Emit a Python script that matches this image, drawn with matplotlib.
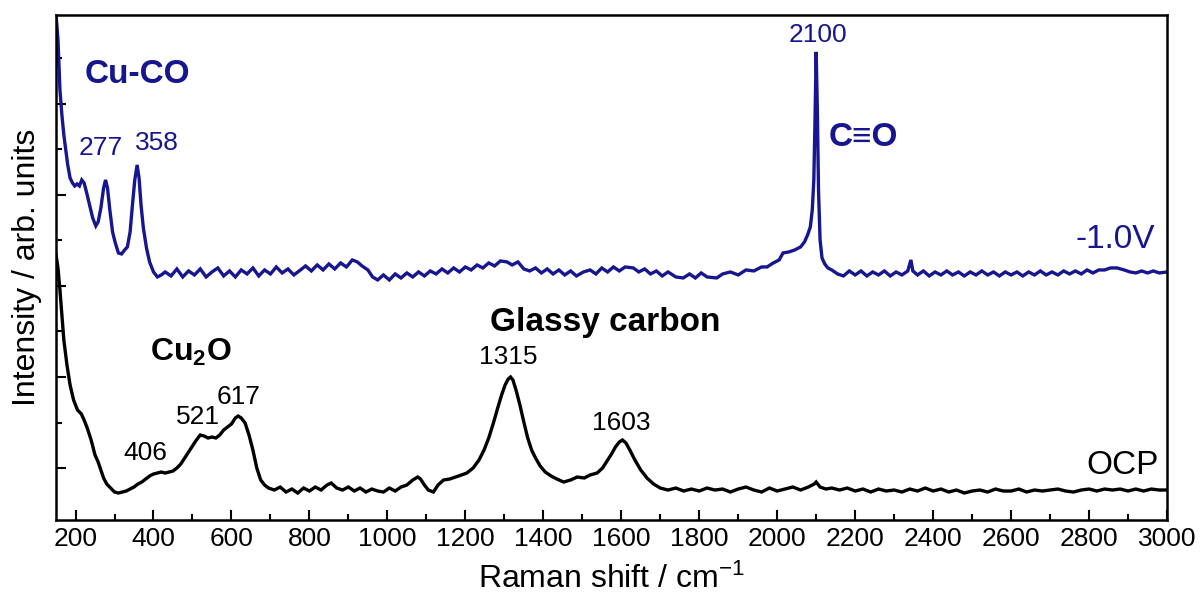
import numpy as np
import matplotlib
matplotlib.use("Agg")
import matplotlib.pyplot as plt
from matplotlib.ticker import MultipleLocator

plt.rcParams['font.family'] = ['Liberation Sans', 'DejaVu Sans']
plt.rcParams['mathtext.fontset'] = 'custom'
plt.rcParams['mathtext.rm'] = 'Liberation Sans'
plt.rcParams['mathtext.bf'] = 'Liberation Sans:bold'
plt.rcParams['mathtext.default'] = 'regular'

BLUE = '#16168f'

# OCP spectrum (Raman shift in cm-1, intensity in arb. units)
ocp_shift = [150, 155, 160, 165, 170, 178, 186, 195, 205, 215, 222, 230, 240, 250, 258, 265, 272, 280, 290, 300,
             310, 320, 330, 340, 350, 360, 370, 380, 390, 400, 410, 420, 430, 440, 450, 460, 470, 480, 490, 500,
             510, 520, 530, 540, 550, 560, 570, 580, 590, 600, 610, 617, 625, 635, 645, 655, 665, 675, 685, 695,
             710, 725, 740, 755, 770, 785, 800, 815, 830, 845, 856, 870, 885, 900, 915, 930, 945, 960, 975, 990,
             1005, 1020, 1035, 1050, 1065, 1078, 1085, 1095, 1105, 1118, 1130, 1144, 1160, 1175, 1190, 1204, 1220,
             1235, 1248, 1260, 1272, 1283, 1293, 1302, 1310, 1316, 1322, 1330, 1340, 1350, 1360, 1370, 1380, 1392,
             1405, 1420, 1435, 1452, 1470, 1487, 1505, 1520, 1538, 1552, 1565, 1575, 1585, 1595, 1603, 1612, 1622,
             1635, 1650, 1666, 1683, 1700, 1720, 1740, 1760, 1780, 1800, 1820, 1840, 1860, 1880, 1900, 1920, 1940,
             1960, 1980, 2000, 2020, 2040, 2060, 2080, 2095, 2100, 2110, 2125, 2140, 2160, 2180, 2200, 2220, 2240,
             2260, 2280, 2300, 2320, 2340, 2360, 2380, 2400, 2420, 2440, 2460, 2480, 2500, 2520, 2540, 2560, 2580,
             2600, 2620, 2640, 2660, 2680, 2700, 2720, 2740, 2760, 2780, 2800, 2820, 2840, 2860, 2880, 2900, 2920,
             2940, 2960, 2980, 3000]
ocp_int = [265, 252, 230, 205, 180, 155, 135, 120, 110, 106, 100, 92, 80, 65, 58, 50, 42, 36, 32, 28,
           27, 28, 29, 31, 33, 36, 38, 41, 44, 46, 47, 48, 47, 48, 49, 52, 56, 62, 68, 74,
           80, 85, 84, 82, 83, 82, 85, 90, 93, 96, 102, 104, 102, 97, 85, 70, 52, 40, 35, 32,
           30, 33, 28, 31, 27, 32, 29, 33, 30, 35, 37, 32, 30, 33, 29, 32, 28, 31, 29, 28,
           32, 29, 33, 35, 40, 43, 41, 35, 30, 28, 35, 40, 41, 43, 45, 47, 52,
           60, 70, 82, 97, 112, 125, 135, 141, 143, 140, 130, 115, 98, 82, 70, 62, 54,
           48, 44, 41, 38, 40, 43, 42, 45, 47, 52, 60, 66, 73, 78, 80, 77, 70,
           60, 50, 42, 36, 32, 30, 32, 29, 31, 29, 32, 30, 31, 28, 31, 33, 30,
           28, 32, 29, 31, 33, 30, 33, 36, 38, 33, 31, 32, 30, 32, 29, 31, 28,
           31, 29, 30, 28, 31, 29, 32, 29, 31, 28, 30, 27, 29, 30, 28, 31, 29,
           29, 31, 28, 30, 29, 30, 31, 29, 28, 30, 31, 29, 31, 30, 31, 29, 31,
           29, 31, 30, 30]

# -1.0 V spectrum
neg_shift = [150, 155, 160, 165, 170, 175, 180, 186, 192, 198, 204, 210, 216, 222, 228, 236, 244, 252, 258, 265,
             272, 277, 282, 288, 295, 302, 310, 318, 326, 333, 340, 346, 352, 358, 363, 368, 374, 382, 390, 400,
             410, 420, 430, 445, 460, 475, 490, 505, 520, 535, 550, 565, 580, 595, 610, 625, 640, 655, 670, 685,
             700, 715, 730, 745, 760, 777, 790, 805, 820, 835, 850, 865, 880, 895, 910, 923, 935, 950, 962, 975,
             990, 1005, 1020, 1035, 1050, 1065, 1080, 1095, 1110, 1125, 1140, 1155, 1170, 1185, 1200, 1215, 1230,
             1245, 1260, 1275, 1290, 1307, 1320, 1335, 1350, 1365, 1380, 1395, 1410, 1425, 1440, 1455, 1470, 1485,
             1503, 1520, 1535, 1550, 1565, 1580, 1595, 1610, 1631, 1645, 1660, 1675, 1690, 1705, 1720, 1740, 1759,
             1775, 1790, 1805, 1820, 1845, 1860, 1880, 1900, 1920, 1940, 1960, 1974, 1990, 2005, 2015, 2030, 2045,
             2060, 2070, 2078, 2085, 2090, 2094, 2097, 2100, 2103, 2106, 2110, 2115, 2122, 2130, 2140, 2155, 2170,
             2185, 2200, 2215, 2230, 2245, 2260, 2275, 2290, 2305, 2320, 2335, 2343, 2348, 2360, 2375, 2390, 2405,
             2420, 2435, 2450, 2465, 2480, 2495, 2510, 2525, 2540, 2555, 2570, 2585, 2600, 2615, 2630, 2645, 2660,
             2675, 2690, 2705, 2720, 2735, 2750, 2765, 2780, 2795, 2810, 2825, 2840, 2855, 2872, 2890, 2905, 2920,
             2935, 2950, 2965, 2980, 3000]
neg_int = [505, 480, 430, 405, 385, 370, 355, 342, 337, 334, 336, 334, 340, 337, 328, 315, 302, 294, 298, 312,
           332, 340, 332, 310, 288, 277, 267, 266, 270, 273, 288, 315, 340, 355, 342, 315, 292, 272, 258, 248,
           243, 245, 248, 244, 251, 243, 249, 245, 251, 243, 248, 252, 244, 249, 243, 250, 246, 252, 244, 250,
           246, 253, 247, 251, 245, 250, 254, 249, 255, 250, 256, 251, 257, 253, 260, 258, 254, 250, 243, 240,
           245, 240, 246, 242, 247, 243, 248, 244, 249, 246, 251, 247, 252, 248, 253, 250, 255,
           252, 257, 254, 259, 258, 255, 258, 251, 249, 252, 247, 251, 246, 250, 245, 249, 244,
           248, 250, 246, 252, 248, 253, 249, 253, 252, 248, 251, 246, 249, 244, 248, 243, 242,
           246, 242, 247, 243, 242, 246, 248, 245, 250, 249, 253, 253, 257, 260, 267, 268, 270,
           273, 278, 285, 293, 310, 340, 400, 468, 410, 330, 280, 262, 256, 252, 250, 246, 244,
           249, 245, 249, 244, 248, 245, 249, 244, 248, 245, 249, 260, 249, 245, 249, 244, 248,
           245, 249, 245, 248, 244, 248, 245, 249, 245, 248, 244, 248, 245, 248, 244, 248, 245,
           249, 245, 248, 245, 249, 246, 249, 246, 250, 247, 250, 250, 252, 252, 250, 248, 247,
           249, 247, 249, 247, 248]

# annotations: (text, shift, intensity, colour, bold, size)
labels = [
    ('Cu-CO', 359, 445, BLUE, True, 24),
    ('277', 264, 372, BLUE, False, 19),
    ('358', 408, 377, BLUE, False, 19),
    ('2100', 2105, 485, BLUE, False, 19),
    ('C\u2261O', 2220, 382, BLUE, True, 24),
    ('-1.0V', 2866, 280, BLUE, False, 24),
    (r'$\mathbf{Cu_2O}$', 495, 168, 'black', True, 23),
    ('406', 380, 67, 'black', False, 19),
    ('521', 513, 103, 'black', False, 19),
    ('617', 618, 123, 'black', False, 19),
    ('Glassy carbon', 1558, 197, 'black', True, 24),
    ('1315', 1310, 163, 'black', False, 19),
    ('1603', 1600, 97, 'black', False, 19),
    ('OCP', 2885, 55, 'black', False, 24),
]

fig = plt.figure(figsize=(12, 5.95), dpi=100)
ax = fig.add_axes([0.0467, 0.126, 0.9258, 0.849])

ax.plot(neg_shift, neg_int, color=BLUE, lw=2.4, solid_joinstyle='miter')
ax.plot(ocp_shift, ocp_int, color='black', lw=2.4, solid_joinstyle='miter')

for txt, x, y, col, bold, size in labels:
    ax.text(x, y, txt, color=col, fontsize=size, ha='center', va='center',
            fontweight='bold' if bold else 'normal')

ax.set_xlim(150, 3000)
ax.set_ylim(0, 505)
ax.xaxis.set_major_locator(MultipleLocator(200))
ax.xaxis.set_minor_locator(MultipleLocator(100))
ax.set_yticks(np.arange(52, 505, 91))
ax.set_yticks(np.arange(97.5, 505, 91), minor=True)
ax.set_yticklabels([])
ax.tick_params(which='both', direction='in', top=False, right=False, width=1.5)
ax.tick_params(which='major', length=7, labelsize=19, pad=5)
ax.tick_params(which='minor', length=4)
for s in ax.spines.values():
    s.set_linewidth(1.8)

ax.set_xlabel('Raman shift / cm$^{-1}$', fontsize=23, labelpad=9)
ax.set_ylabel('Intensity / arb. units', fontsize=23, labelpad=5)

fig.savefig('out.png', dpi=100)
